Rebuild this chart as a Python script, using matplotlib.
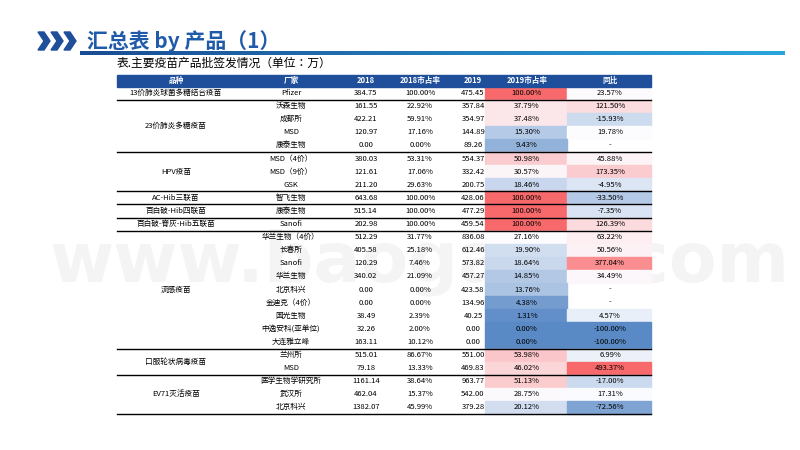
import numpy as np
import matplotlib.pyplot as plt
from matplotlib.colors import LinearSegmentedColormap
from matplotlib.patches import Rectangle, Polygon

plt.rcParams['font.family'] = 'sans-serif'
plt.rcParams['font.sans-serif'] = ['Noto Sans CJK SC', 'Noto Sans CJK JP', 'Noto Sans CJK TC',
                                   'Noto Sans CJK KR', 'DejaVu Sans']

headers = ['品种', '厂家', '2018', '2018市占率', '2019', '2019市占率', '同比']
groups = ['13价肺炎球菌多糖结合疫苗', '23价肺炎多糖疫苗', 'HPV疫苗', 'AC-Hib三联苗',
          '百白破-Hib四联苗', '百白破-脊灰-Hib五联苗', '流感疫苗', '口服轮状病毒疫苗', 'EV71灭活疫苗']
group_sizes = [1, 4, 3, 1, 1, 1, 9, 2, 3]
makers = ['Pfizer', '沃森生物', '成都所', 'MSD', '康泰生物',
          'MSD（4价）', 'MSD（9价）', 'GSK', '智飞生物', '康泰生物', 'Sanofi',
          '华兰生物（4价）', '长春所', 'Sanofi', '华兰生物', '北京科兴', '金迪克（4价）',
          '国光生物', '中逸安科(亚单位)', '大连雅立峰', '兰州所', 'MSD',
          '医学生物学研究所', '武汉所', '北京科兴']
v2018 = [384.75, 161.55, 422.21, 120.97, 0.00, 380.03, 121.61, 211.20, 643.68, 515.14,
         202.98, 512.29, 405.58, 120.29, 340.02, 0.00, 0.00, 38.49, 32.26, 163.11,
         515.01, 79.18, 1161.14, 462.04, 1382.07]
s2018 = [100.00, 22.92, 59.91, 17.16, 0.00, 53.31, 17.06, 29.63, 100.00, 100.00,
         100.00, 31.77, 25.18, 7.46, 21.09, 0.00, 0.00, 2.39, 2.00, 10.12,
         86.67, 13.33, 38.64, 15.37, 45.99]
v2019 = [475.45, 357.84, 354.97, 144.89, 89.26, 554.37, 332.42, 200.75, 428.06, 477.29,
         459.54, 836.08, 612.46, 573.82, 457.27, 423.58, 134.96, 40.25, 0.00, 0.00,
         551.00, 469.83, 963.77, 542.00, 379.28]
s2019 = [100.00, 37.79, 37.48, 15.30, 9.43, 50.98, 30.57, 18.46, 100.00, 100.00,
         100.00, 27.16, 19.90, 18.64, 14.85, 13.76, 4.38, 1.31, 0.00, 0.00,
         53.98, 46.02, 51.13, 28.75, 20.12]
yoy = [23.57, 121.50, -15.93, 19.78, None, 45.88, 173.35, -4.95, -33.50, -7.35,
       126.39, 63.22, 50.56, 377.04, 34.49, None, None, 4.57, -100.00, -100.00,
       6.99, 493.37, -17.00, 17.31, -72.56]

RED = np.array([248, 105, 107]) / 255
WHITE = np.array([252, 252, 255]) / 255
BLUE = np.array([90, 138, 198]) / 255


def scale_color(v, vals):
    lo, mid, hi = min(vals), np.percentile(vals, 50), max(vals)
    if v >= mid:
        t = (v - mid) / (hi - mid) if hi > mid else 0
        return WHITE + (RED - WHITE) * t
    t = (mid - v) / (mid - lo) if mid > lo else 0
    return WHITE + (BLUE - WHITE) * t


fig = plt.figure(figsize=(8, 4.5), dpi=100)
ax = fig.add_axes([0, 0, 1, 1])

# title block
for i in range(3):
    x0 = 38 + i * 13
    ax.add_patch(Polygon([[x0, 32], [x0 + 6, 32], [x0 + 12, 41], [x0 + 6, 50], [x0, 50], [x0 + 6, 41]],
                         color='#1F4E9A', zorder=2))
ax.text(87, 41, '汇总表 by 产品（1）', fontsize=15, color='#1F5BA8', va='center',
        fontweight='bold')
grad = np.linspace(0, 1, 256).reshape(1, -1)
ax.imshow(grad, extent=[80, 785, 55, 51], aspect='auto', zorder=2,
          cmap=LinearSegmentedColormap.from_list('g', ['#1A4C93', '#2AA6DD']))
ax.set_xlim(0, 800)
ax.set_ylim(450, 0)
ax.axis('off')
ax.text(117, 63, '表.主要疫苗产品批签发情况（单位：万）', fontsize=8.5, va='center')

# watermark
ax.text(420, 262, 'www.baogao8.com', fontsize=50, color='#f2f2f2', ha='center',
        va='center', fontweight='bold', zorder=0.5, family='DejaVu Sans', alpha=0.8)

# table geometry
left, right = 117, 651
col_x = [176, 291, 366, 420, 473, 527, 610]
top, head_h, row_h = 75, 11.5, 13.1
ax.add_patch(Rectangle((left, top), right - left, head_h, color='#1F4E9A', zorder=2))
for x, h in zip(col_x, headers):
    ax.text(x, top + head_h / 2, h, color='white', fontsize=5.5, ha='center', va='center',
            fontweight='bold', zorder=3)

y0 = top + head_h
yoy_vals = [v for v in yoy if v is not None]
for i in range(len(makers)):
    y = y0 + i * row_h
    ax.add_patch(Rectangle((485, y), 82, row_h, color=scale_color(s2019[i], s2019), zorder=1))
    if yoy[i] is not None:
        ax.add_patch(Rectangle((567, y), 84, row_h, color=scale_color(yoy[i], yoy_vals), zorder=1))
    cells = [makers[i], f'{v2018[i]:.2f}', f'{s2018[i]:.2f}%', f'{v2019[i]:.2f}',
             f'{s2019[i]:.2f}%', '-' if yoy[i] is None else f'{yoy[i]:.2f}%']
    for x, c in zip(col_x[1:], cells):
        ax.text(x, y + row_h / 2, c, fontsize=5.5, ha='center', va='center', zorder=3)

start = 0
for g, n in zip(groups, group_sizes):
    yc = y0 + (start + n / 2) * row_h
    ax.text(col_x[0], yc, g, fontsize=5.5, ha='center', va='center', zorder=3)
    start += n
    yb = y0 + start * row_h
    ax.plot([left, right], [yb, yb], color='black', lw=1.0, zorder=4)

fig.savefig('out.png', dpi=100)
